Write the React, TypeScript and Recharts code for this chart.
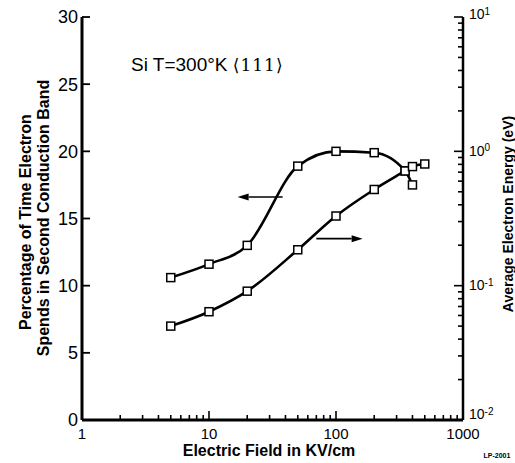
import React from 'react';
import { LineChart, Line, XAxis, YAxis, ReferenceLine } from 'recharts';

// Electric field (kV/cm) for the percentage curve (left axis)
const fieldPct = [5, 10, 20, 50, 100, 200, 350, 400];
// Percentage of time electron spends in second conduction band
const pctValues = [10.6, 11.6, 13.0, 18.9, 20.0, 19.9, 18.55, 17.5];
// Electric field (kV/cm) for the energy curve (right axis)
const fieldEnergy = [5, 10, 20, 50, 100, 200, 350, 400, 500];
// Average electron energy (eV)
const energyValues = [0.05, 0.064, 0.091, 0.185, 0.33, 0.52, 0.714, 0.77, 0.805];

const xTicks = [1, 2, 3, 4, 5, 6, 7, 8, 9, 10, 20, 30, 40, 50, 60, 70, 80, 90, 100, 200, 300, 400, 500, 600, 700, 800, 900, 1000];
const xMajor = [1, 10, 100, 1000];
const leftTicks = [0, 5, 10, 15, 20, 25, 30];
const rightTicks = [0.01, 0.02, 0.03, 0.04, 0.05, 0.06, 0.07, 0.08, 0.09, 0.1, 0.2, 0.3, 0.4, 0.5, 0.6, 0.7, 0.8, 0.9, 1, 2, 3, 4, 5, 6, 7, 8, 9, 10];
const rightMajor = [0.01, 0.1, 1, 10];
const rightExp: Record<string, string> = { '0.01': '-2', '0.1': '-1', '1': '0', '10': '1' };

const pctData = fieldPct.map((x, i) => ({ x, pct: pctValues[i] }));
const energyData = fieldEnergy.map((x, i) => ({ x, energy: energyValues[i] }));

const FONT = '"Liberation Sans", Arial, sans-serif';

const isMajorX = (v: number) => xMajor.some((m) => Math.abs(m - v) < 1e-9);
const isMajorR = (v: number) => rightMajor.some((m) => Math.abs(m - v) < 1e-9);

const BottomTick = (props: any) => {
  const { x, y, payload } = props;
  const v = payload.value;
  const major = isMajorX(v);
  return (
    <g>
      <line x1={x} y1={y} x2={x} y2={y - (major ? 9 : 5)} stroke="#000" strokeWidth={1.6} />
      {major && (
        <text x={x} y={y + 19} textAnchor="middle" fontFamily={FONT} fontSize={15} fill="#000">
          {String(v)}
        </text>
      )}
    </g>
  );
};

const TopTick = (props: any) => {
  const { x, y, payload } = props;
  const major = isMajorX(payload.value);
  return <line x1={x} y1={y} x2={x} y2={y + (major ? 9 : 5)} stroke="#000" strokeWidth={1.6} />;
};

const LeftTick = (props: any) => {
  const { x, y, payload } = props;
  return (
    <g>
      <line x1={x} y1={y} x2={x + 8} y2={y} stroke="#000" strokeWidth={1.8} />
      <text x={x - 4} y={y} dy="0.36em" textAnchor="end" fontFamily={FONT} fontSize={18} fill="#000">
        {String(payload.value)}
      </text>
    </g>
  );
};

const RightTick = (props: any) => {
  const { x, y, payload } = props;
  const v = payload.value;
  const major = isMajorR(v);
  const exp = rightExp[String(v)];
  const shift = v === 0.01 ? -5 : v === 10 ? -2 : 0;
  return (
    <g>
      <line x1={x} y1={y} x2={x - (major ? 9 : 5)} y2={y} stroke="#000" strokeWidth={1.6} />
      {major && (
        <text x={x + 6} y={y + shift} dy="0.32em" textAnchor="start" fontFamily={FONT} fontSize={14} fill="#000">
          10
          <tspan dy="-0.45em" fontSize={10}>{exp}</tspan>
        </text>
      )}
    </g>
  );
};

const SquareDot = (props: any) => {
  const { cx, cy, index } = props;
  if (cx == null || cy == null) return <g key={`d-${index}`} />;
  return (
    <rect key={`d-${index}`} x={cx - 4} y={cy - 4} width={8} height={8} fill="#fff" stroke="#000" strokeWidth={1.5} />
  );
};

const Arrow = (props: any) => {
  const { x1, y1, x2, y2 } = props;
  // x1,y1 is the tip
  const dx = x2 - x1;
  const dy = y2 - y1;
  const len = Math.sqrt(dx * dx + dy * dy) || 1;
  const ux = dx / len;
  const uy = dy / len;
  const hl = 11;
  const hw = 3.5;
  const bx = x1 + ux * hl;
  const by = y1 + uy * hl;
  return (
    <g>
      <line x1={bx} y1={by} x2={x2} y2={y2} stroke="#000" strokeWidth={1.6} />
      <polygon
        points={`${x1},${y1} ${bx - uy * hw},${by + ux * hw} ${bx + uy * hw},${by - ux * hw}`}
        fill="#000"
      />
    </g>
  );
};

export default function App() {
  return (
    <div style={{ position: 'absolute', left: 0, top: 0, width: 515, height: 463, background: '#fff' }}>
      <LineChart width={515} height={463} margin={{ top: 17, right: 0, bottom: 0, left: 0 }}>
        <XAxis
          xAxisId="bottom"
          dataKey="x"
          type="number"
          scale="log"
          domain={[1, 1000]}
          allowDataOverflow
          ticks={xTicks}
          interval={0}
          tickSize={0}
          tickMargin={0}
          height={43}
          tick={<BottomTick />}
          axisLine={{ stroke: '#000', strokeWidth: 3 }}
          tickLine={false}
        />
        <XAxis
          xAxisId="top"
          orientation="top"
          dataKey="x"
          type="number"
          scale="log"
          domain={[1, 1000]}
          allowDataOverflow
          ticks={xTicks}
          interval={0}
          tickSize={0}
          tickMargin={0}
          height={0}
          tick={<TopTick />}
          axisLine={{ stroke: '#000', strokeWidth: 2.5 }}
          tickLine={false}
        />
        <YAxis
          yAxisId="left"
          type="number"
          domain={[0, 30]}
          ticks={leftTicks}
          interval={0}
          tickSize={0}
          tickMargin={0}
          width={82}
          tick={<LeftTick />}
          axisLine={{ stroke: '#000', strokeWidth: 3 }}
          tickLine={false}
        />
        <YAxis
          yAxisId="right"
          orientation="right"
          type="number"
          scale="log"
          domain={[0.01, 10]}
          allowDataOverflow
          ticks={rightTicks}
          interval={0}
          tickSize={0}
          tickMargin={0}
          width={52}
          tick={<RightTick />}
          axisLine={{ stroke: '#000', strokeWidth: 2.5 }}
          tickLine={false}
        />
        <Line
          xAxisId="bottom"
          yAxisId="left"
          data={pctData}
          dataKey="pct"
          type="monotone"
          stroke="#000"
          strokeWidth={2.6}
          dot={<SquareDot />}
          isAnimationActive={false}
        />
        <Line
          xAxisId="bottom"
          yAxisId="right"
          data={energyData}
          dataKey="energy"
          type="monotone"
          stroke="#000"
          strokeWidth={2.6}
          dot={<SquareDot />}
          isAnimationActive={false}
        />
        <ReferenceLine
          xAxisId="bottom"
          yAxisId="left"
          segment={[{ x: 16.8, y: 16.6 }, { x: 38, y: 16.6 }]}
          shape={<Arrow />}
        />
        <ReferenceLine
          xAxisId="bottom"
          yAxisId="left"
          segment={[{ x: 162, y: 13.5 }, { x: 70, y: 13.5 }]}
          shape={<Arrow />}
        />
      </LineChart>
      <svg
        width={515}
        height={463}
        style={{ position: 'absolute', left: 0, top: 0, pointerEvents: 'none', overflow: 'hidden' }}
      >
        <text x={131} y={71} fontFamily={FONT} fontSize={19} fill="#000">
          Si T=300°K <tspan fontFamily='"DejaVu Serif", serif' fontSize={17} letterSpacing={1}>⟨111⟩</tspan>
        </text>
        <text
          x={25}
          y={222}
          dy="0.35em"
          transform="rotate(-90 25 222)"
          textAnchor="middle"
          fontFamily={FONT}
          fontWeight="bold"
          fontSize={16}
          fill="#000"
        >
          Percentage of Time Electron
        </text>
        <text
          x={43}
          y={218}
          dy="0.35em"
          transform="rotate(-90 43 218)"
          textAnchor="middle"
          fontFamily={FONT}
          fontWeight="bold"
          fontSize={16}
          fill="#000"
        >
          Spends in Second Conduction Band
        </text>
        <text
          x={508}
          y={214}
          dy="0.35em"
          transform="rotate(-90 508 214)"
          textAnchor="middle"
          fontFamily={FONT}
          fontWeight="bold"
          fontSize={14}
          fill="#000"
        >
          Average Electron Energy (eV)
        </text>
        <text x={269} y={456} textAnchor="middle" fontFamily={FONT} fontWeight="bold" fontSize={16} fill="#000">
          Electric Field in KV/cm
        </text>
        <text x={497} y={458} textAnchor="middle" fontFamily={FONT} fontWeight="bold" fontSize={7} fill="#000">
          LP-2001
        </text>
      </svg>
    </div>
  );
}
